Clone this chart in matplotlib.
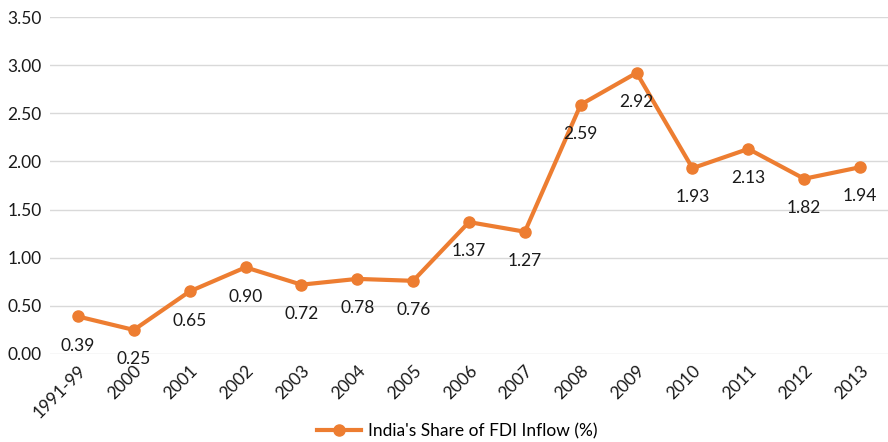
import matplotlib.pyplot as plt

ORANGE = "#ED7D31"

years = ["1991-99", "2000", "2001", "2002", "2003", "2004", "2005", "2006",
         "2007", "2008", "2009", "2010", "2011", "2012", "2013"]
share = [0.39, 0.25, 0.65, 0.90, 0.72, 0.78, 0.76, 1.37,
         1.27, 2.59, 2.92, 1.93, 2.13, 1.82, 1.94]

plt.rcParams["font.family"] = ["Lato", "DejaVu Sans"]
FS = 12.5

fig = plt.figure(figsize=(8.88, 4.42), dpi=100)
ax = fig.add_axes([50 / 888, 88 / 442, 838 / 888, 337 / 442])

x = list(range(len(years)))
ax.plot(x, share, color=ORANGE, linewidth=3, marker="o", markersize=8,
        label="India's Share of FDI Inflow (%)", zorder=3)

for xi, v in zip(x, share):
    ax.annotate(f"{v:.2f}", (xi, v), xytext=(0, -21), textcoords="offset points",
                ha="center", va="center", fontsize=FS, color="#1a1a1a")

ax.set_xlim(-0.5, len(years) - 0.5)
ax.set_ylim(0, 3.5)
ax.set_yticks([0, 0.5, 1.0, 1.5, 2.0, 2.5, 3.0, 3.5])
ax.set_yticklabels([f"{t:.2f}" for t in ax.get_yticks()], fontsize=FS, color="#1a1a1a")
ax.set_xticks(x)
ax.set_xticklabels(years, rotation=45, ha="right", rotation_mode="anchor",
                   fontsize=FS, color="#1a1a1a")
ax.tick_params(length=0, pad=6)
ax.grid(True, axis="y", color="#D9D9D9", linewidth=1)
ax.set_axisbelow(True)
for s in ax.spines.values():
    s.set_visible(False)

fig.legend(loc="center", bbox_to_anchor=(0.515, 0.025), frameon=False,
           fontsize=FS, handlelength=2.5, handletextpad=0.4)

fig.savefig("out.png", dpi=100)
